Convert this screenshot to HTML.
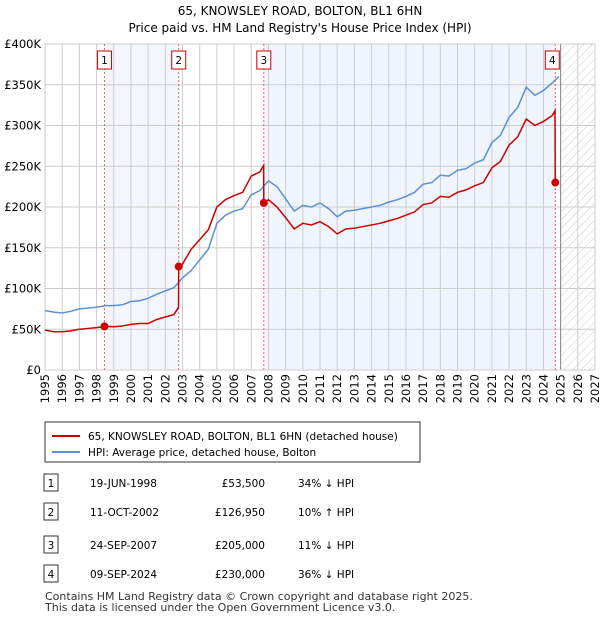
<!DOCTYPE html>
<html><head><meta charset="utf-8"><style>
body{margin:0;background:#fff;font-family:"Liberation Sans","DejaVu Sans",sans-serif;}
svg text{font-family:"DejaVu Sans","Liberation Sans",sans-serif;}
</style></head><body>
<svg id="c" width="600" height="620" xmlns="http://www.w3.org/2000/svg">
<defs><pattern id="hatch" width="6" height="6" patternUnits="userSpaceOnUse" patternTransform="rotate(45)"><line x1="0" y1="0" x2="0" y2="6" stroke="#ccc" stroke-width="1"/></pattern></defs>
<text x="300" y="15" text-anchor="middle" font-size="12">65, KNOWSLEY ROAD, BOLTON, BL1 6HN</text>
<text x="300" y="32" text-anchor="middle" font-size="12">Price paid vs. HM Land Registry's House Price Index (HPI)</text>
<g id="plot"></g>
<g>
<rect x="45" y="422" width="375" height="40" fill="#fff" stroke="#333"/>
<line x1="52" y1="436" x2="80" y2="436" stroke="#cc0000" stroke-width="2"/>
<text x="88" y="440" font-size="10.5">65, KNOWSLEY ROAD, BOLTON, BL1 6HN (detached house)</text>
<line x1="52" y1="452" x2="80" y2="452" stroke="#5b8fd6" stroke-width="2"/>
<text x="88" y="456" font-size="10.5">HPI: Average price, detached house, Bolton</text>
</g>
<g id="table" font-size="10.5"></g>
<text x="45" y="600" font-size="11" fill="#333">Contains HM Land Registry data © Crown copyright and database right 2025.</text>
<text x="45" y="611" font-size="11" fill="#333">This data is licensed under the Open Government Licence v3.0.</text>
</svg>
<script>
const hpiYears=[1995,1995.5,1996,1996.5,1997,1997.5,1998,1998.5,1999,1999.5,2000,2000.5,2001,2001.5,2002,2002.5,2003,2003.5,2004,2004.5,2005,2005.5,2006,2006.5,2007,2007.5,2008,2008.5,2009,2009.5,2010,2010.5,2011,2011.5,2012,2012.5,2013,2013.5,2014,2014.5,2015,2015.5,2016,2016.5,2017,2017.5,2018,2018.5,2019,2019.5,2020,2020.5,2021,2021.5,2022,2022.5,2023,2023.5,2024,2024.5,2024.9];
const hpiValues=[73,71,70,72,75,76,77,79,79,80,84,85,88,93,97,101,113,122,135,148,180,190,195,198,215,220,232,225,210,195,202,200,205,198,188,195,196,198,200,202,206,209,213,218,228,230,239,238,245,247,254,258,279,288,310,322,347,337,343,352,360];
const paidYears=[1995,1995.5,1996,1996.5,1997,1997.5,1998,1998.46,1999,1999.5,2000,2000.5,2001,2001.5,2002,2002.5,2002.77,2002.78,2003,2003.5,2004,2004.5,2005,2005.5,2006,2006.5,2007,2007.5,2007.72,2007.73,2008,2008.5,2009,2009.5,2010,2010.5,2011,2011.5,2012,2012.5,2013,2013.5,2014,2014.5,2015,2015.5,2016,2016.5,2017,2017.5,2018,2018.5,2019,2019.5,2020,2020.5,2021,2021.5,2022,2022.5,2023,2023.5,2024,2024.5,2024.67,2024.69];
const paidValues=[49,47,47,48,50,51,52,53.5,53,54,56,57,57,62,65,68,77,126.95,130,148,160,172,200,209,214,218,238,243,251,205,209,200,187,173,180,178,182,176,167,173,174,176,178,180,183,186,190,194,203,205,213,212,218,221,226,230,248,256,276,286,308,300,305,312,318,230];
const saleLabels=["1","2","3","4"];
const saleYears=[1998.46,2002.78,2007.73,2024.69];
const salePrices=[53.5,126.95,205,230];
const saleDates=["19-JUN-1998","11-OCT-2002","24-SEP-2007","09-SEP-2024"];
const salePriceText=["£53,500","£126,950","£205,000","£230,000"];
const saleHpiText=["34% ↓ HPI","10% ↑ HPI","11% ↓ HPI","36% ↓ HPI"];
const yTicks=[0,50,100,150,200,250,300,350,400];
const yTickLabels=["£0","£50K","£100K","£150K","£200K","£250K","£300K","£350K","£400K"];
const xTicks=[1995,1996,1997,1998,1999,2000,2001,2002,2003,2004,2005,2006,2007,2008,2009,2010,2011,2012,2013,2014,2015,2016,2017,2018,2019,2020,2021,2022,2023,2024,2025,2026,2027];
const forecastStart=2025;

const X0=45,X1=595,Y0=370,Y1=44;
const x=v=>X0+(v-1995)/(2027-1995)*(X1-X0);
const y=v=>Y0-v/400*(Y0-Y1);
const NS="http://www.w3.org/2000/svg";
const plot=document.getElementById('plot');
function mk(tag,attrs,parent){const e=document.createElementNS(NS,tag);for(const k in attrs)e.setAttribute(k,attrs[k]);(parent||plot).appendChild(e);return e;}

// shaded bands
for(let i=0;i<saleYears.length-1;i+=2){
  const b=mk('rect',{x:x(saleYears[i]),y:Y1,width:x(saleYears[i+1])-x(saleYears[i]),height:Y0-Y1,fill:'#eef3fc',opacity:0.7});
  
  
}
const b3=mk('rect',{x:x(saleYears[2]),y:Y1,width:x(saleYears[3])-x(saleYears[2]),height:Y0-Y1,fill:'#eef3fc',opacity:0.7});


const fc=mk('rect',{x:x(forecastStart),y:Y1,width:X1-x(forecastStart),height:Y0-Y1,fill:'url(#hatch)'});



// grid
yTicks.forEach((t,i)=>{
  const l=mk('line',{x1:X0,x2:X1,y1:y(t),y2:y(t),stroke:'#ccc'});
  
  
  const tx=mk('text',{x:X0-4,y:y(t)+4,'text-anchor':'end','font-size':'11.5'});
  tx.textContent=yTickLabels[i];
  
  
});
xTicks.forEach(t=>{
  const l=mk('line',{x1:x(t),x2:x(t),y1:Y1,y2:Y0,stroke:'#ccc'});
  
  
  const tx=mk('text',{x:0,y:0,'text-anchor':'end','font-size':'11.5',transform:`translate(${x(t)+4},${Y0+4}) rotate(-90)`});
  tx.textContent=t;
  
  
});
const fl=mk('line',{x1:x(forecastStart),x2:x(forecastStart),y1:Y1,y2:Y0,stroke:'#888'});


const fr=mk('rect',{x:X0,y:Y1,width:X1-X0,height:Y0-Y1,fill:'none',stroke:'#ccc'});



// sale markers vertical
saleYears.forEach((s,i)=>{
  const l=mk('line',{x1:x(s),x2:x(s),y1:Y1,y2:Y0,stroke:'#f06060','stroke-dasharray':'2,2'});
  
  
});

// series
const hp=mk('polyline',{points:hpiYears.map((v,i)=>x(v)+','+y(hpiValues[i])).join(' '),fill:'none',stroke:'#5b8fd6','stroke-width':1.5});


const pp=mk('polyline',{points:paidYears.map((v,i)=>x(v)+','+y(paidValues[i])).join(' '),fill:'none',stroke:'#cc0000','stroke-width':1.5});



saleYears.forEach((s,i)=>{
  const c=mk('circle',{cx:x(s),cy:y(salePrices[i]),r:4,fill:'#cc0000'});
  
  
  const bx=x(s)-(i==3?10:7);
  const r=mk('rect',{x:bx,y:51,width:14,height:18,fill:'#fff',stroke:'#cc0000'});
  
  
  const t=mk('text',{x:bx+7,y:64,'text-anchor':'middle','font-size':'10.5'});
  t.textContent=saleLabels[i];
  
  
});

// table
const tb=document.getElementById('table');
const rowY=[483,512,545,574];
saleLabels.forEach((lab,i)=>{
  const yy=rowY[i];
  const r=mk('rect',{x:44,y:yy-9,width:14,height:17,fill:'#fff',stroke:'#333'},tb);
  
  
  const cells=[[51,lab,'middle'],[90,saleDates[i],'start'],[265,salePriceText[i],'end'],[298,saleHpiText[i],'start']];
  cells.forEach(c=>{
    const t=mk('text',{x:c[0],y:yy+4,'text-anchor':c[2]},tb);
    t.textContent=c[1];
    
    
  });
});
</script>
</body></html>
